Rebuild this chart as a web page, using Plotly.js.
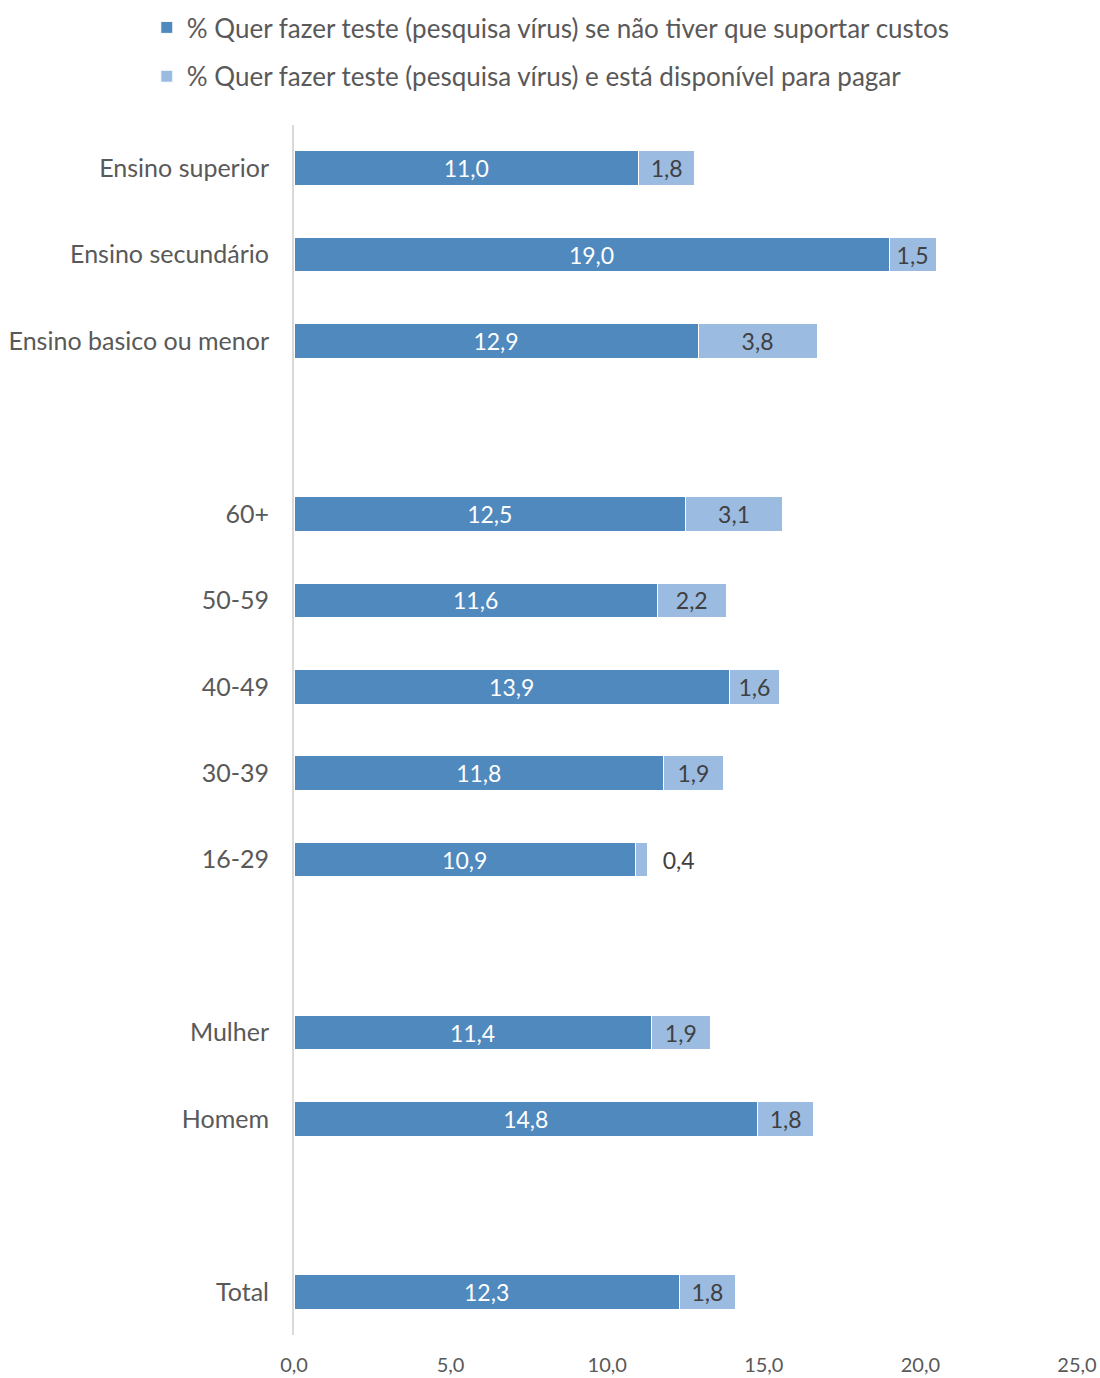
<!DOCTYPE html>
<html>
<head>
<meta charset="utf-8">
<script src="https://cdn.plot.ly/plotly-3.0.1.min.js"></script>
<style>html,body{margin:0;padding:0;background:#fff;}#chart{width:1100px;height:1378px;}</style>
</head>
<body>
<div id="chart"></div>
<script>
// Categories top to bottom; blank entries are spacer slots
const categories = ["Ensino superior", "Ensino secundário", "Ensino basico ou menor", " ",
  "60+", "50-59", "40-49", "30-39", "16-29", "  ",
  "Mulher", "Homem", "   ", "Total"];
const freeTest = [11.0, 19.0, 12.9, null, 12.5, 11.6, 13.9, 11.8, 10.9, null, 11.4, 14.8, null, 12.3];
const payTest  = [1.8, 1.5, 3.8, null, 3.1, 2.2, 1.6, 1.9, 0.4, null, 1.9, 1.8, null, 1.8];
const seriesNames = [
  "% Quer fazer teste (pesquisa vírus) se não tiver que suportar custos",
  "% Quer fazer teste (pesquisa vírus) e está disponível para pagar"
];
const xTicks = [0, 5, 10, 15, 20, 25];

const fmt = v => v == null ? "" : v.toFixed(1).replace(".", ",");
const FONT = "Lato, 'Open Sans', sans-serif";

const payPos = payTest.map(v => (v != null && v < 1) ? "outside" : "inside");
const payText = payTest.map((v, i) => payPos[i] === "outside" ? "  " + fmt(v) : fmt(v));

const traces = [
  {
    type: "bar", orientation: "h", name: seriesNames[0], legendgroup: "a",
    y: categories, x: freeTest,
    marker: {color: "#4F89BD", line: {color: "#ffffff", width: 1}},
    text: freeTest.map(fmt), textposition: "inside", insidetextanchor: "middle", textangle: 0,
    textfont: {family: FONT, size: 23, color: "#ffffff"},
    constraintext: "none", hoverinfo: "none"
  },
  {
    type: "bar", orientation: "h", name: seriesNames[1], legendgroup: "b",
    y: categories, x: payTest,
    marker: {color: "#9BBBE0", line: {color: "#ffffff", width: 1}},
    text: payText, textposition: payPos, insidetextanchor: "middle", textangle: 0,
    textfont: {family: FONT, size: 23, color: "#404040"},
    constraintext: "none", cliponaxis: false, hoverinfo: "none"
  }
];

const layout = {
  width: 1100, height: 1378,
  margin: {l: 294, r: 23, t: 125, b: 43, autoexpand: false},
  paper_bgcolor: "#ffffff", plot_bgcolor: "#ffffff",
  barmode: "stack", bargap: 0.6,
  separators: ",.",
  font: {family: FONT, color: "#595959", size: 22},
  showlegend: true,
  legend: {
    orientation: "v", traceorder: "grouped", tracegroupgap: 12,
    x: -0.188, xanchor: "left", y: 1.1, yanchor: "top",
    font: {family: FONT, size: 26, color: "#595959"},
    bgcolor: "rgba(0,0,0,0)"
  },
  xaxis: {
    range: [0, 25], tickvals: xTicks, ticktext: xTicks.map(fmt),
    showgrid: false, zeroline: false, showline: false,
    ticks: "", ticklabelstandoff: 16,
    tickfont: {family: FONT, size: 20, color: "#595959"},
    fixedrange: true
  },
  yaxis: {
    type: "category", categoryorder: "array", categoryarray: categories,
    autorange: "reversed",
    showgrid: false, zeroline: false, showline: true, linecolor: "#D9D9D9", linewidth: 2,
    ticks: "", ticklabelstandoff: 18,
    tickfont: {family: FONT, size: 25, color: "#595959"},
    fixedrange: true
  }
};

Plotly.newPlot("chart", traces, layout, {displayModeBar: false, staticPlot: true});
</script>
</body>
</html>
